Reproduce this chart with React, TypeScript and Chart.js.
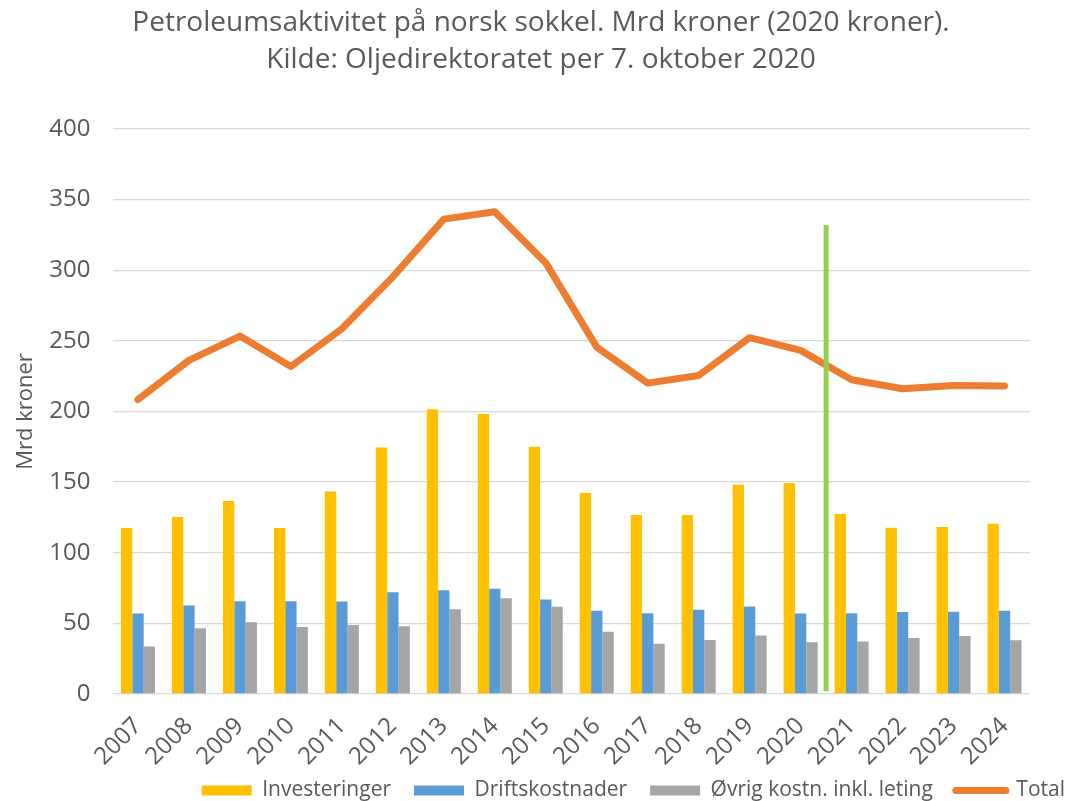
import React, { useEffect, useRef } from 'react';
import { Chart, registerables } from 'chart.js';

Chart.register(...registerables);

const years = ['2007', '2008', '2009', '2010', '2011', '2012', '2013', '2014', '2015', '2016', '2017', '2018', '2019', '2020', '2021', '2022', '2023', '2024'];
const investeringer = [117.5, 125.3, 136.7, 117.5, 143.3, 174.5, 201.6, 198.3, 175.0, 142.3, 126.7, 126.7, 148.2, 149.4, 127.4, 117.7, 118.2, 120.6];
const driftskostnader = [57.0, 62.6, 65.7, 65.7, 65.5, 72.1, 73.5, 74.5, 66.9, 58.9, 57.2, 59.6, 61.9, 57.0, 57.2, 58.0, 58.2, 58.9];
const ovrig = [33.6, 46.6, 50.8, 47.5, 48.9, 48.0, 60.0, 67.8, 61.7, 44.0, 35.5, 38.3, 41.4, 36.6, 37.1, 39.7, 41.1, 38.0];
const total = [208.5, 236.2, 253.4, 231.9, 258.6, 295.3, 336.2, 341.4, 305.2, 245.6, 220.1, 225.5, 252.3, 243.3, 222.5, 216.1, 218.4, 218.0];
// vertical marker between 2020 and 2021 (halfway between their category positions)
const markerX = [13.5, 13.5];
const markerY = [2, 332];
const yTicks = { min: 0, max: 400, step: 50 };

const FONT = "'Open Sans', 'Noto Sans', sans-serif";
const TXT = '#595959';

const toPts = (arr: number[]) => arr.map((y, i) => ({ x: i, y }));

// let the rotated year labels extend below the x-axis box without being clipped
const extendLabelClip = {
  id: 'extendLabelClip',
  afterLayout(chart: any) {
    const x = chart.scales.x;
    if (x) x.bottom = chart.height;
  },
};

export default function App() {
  const ref = useRef<HTMLCanvasElement>(null);
  useEffect(() => {
    const canvas = ref.current!;
    const barCommon = { type: 'bar', order: 3, categoryPercentage: 0.667, barPercentage: 1.0 };
    const chart = new Chart(canvas, {
      type: 'bar',
      data: {
        datasets: [
          { ...barCommon, label: 'Investeringer', data: toPts(investeringer), backgroundColor: '#FFC000' } as any,
          { ...barCommon, label: 'Driftskostnader', data: toPts(driftskostnader), backgroundColor: '#5B9BD5' } as any,
          { ...barCommon, label: 'Øvrig kostn. inkl. leting', data: toPts(ovrig), backgroundColor: '#A5A5A5' } as any,
          { type: 'line', label: 'Total', data: toPts(total), borderColor: '#ED7D31', backgroundColor: '#ED7D31', borderWidth: 7, borderCapStyle: 'round', borderJoinStyle: 'round', pointRadius: 0, order: 1 } as any,
          { type: 'line', label: 'marker', data: markerX.map((x, i) => ({ x, y: markerY[i] })), borderColor: '#92D050', borderWidth: 5, pointRadius: 0, order: 0 } as any,
        ],
      },
      plugins: [extendLabelClip],
      options: {
        responsive: false,
        animation: false,
        devicePixelRatio: 1,
        layout: { padding: { left: -6, right: -20, top: 0, bottom: -10 } },
        plugins: {
          tooltip: { enabled: false },
          title: {
            display: true,
            text: ['Petroleumsaktivitet på norsk sokkel. Mrd kroner (2020 kroner).', 'Kilde: Oljedirektoratet per 7. oktober 2020'],
            color: TXT,
            font: { family: FONT, size: 28, weight: 'normal', lineHeight: 1.32 },
            padding: { top: 4.5, bottom: 50.6 },
          },
          legend: {
            position: 'bottom',
            align: 'end',
            labels: {
              color: TXT,
              font: { family: FONT, size: 21, lineHeight: 1.2 },
              usePointStyle: true,
              pointStyleWidth: 50,
              boxHeight: 10,
              padding: 23,
              filter: (item: any) => item.datasetIndex !== 4,
              sort: (a: any, b: any) => a.datasetIndex - b.datasetIndex,
              generateLabels: (ch: any) => {
                const items = (Chart.defaults.plugins.legend.labels as any).generateLabels(ch);
                return items.map((it: any) => {
                  if (it.datasetIndex === 3) {
                    return { ...it, pointStyle: 'line', lineWidth: 7, lineCap: 'round', strokeStyle: '#ED7D31', fillStyle: '#ED7D31' };
                  }
                  return { ...it, pointStyle: 'rect', lineWidth: 0 };
                });
              },
            },
          },
        },
        scales: {
          x: {
            type: 'linear',
            min: -0.5,
            max: years.length - 0.5,
            offset: false,
            grid: { display: false, drawTicks: false },
            border: { display: false },
            afterBuildTicks: (s: any) => { s.ticks = years.map((_, i) => ({ value: i })); },
            ticks: {
              color: TXT,
              font: { family: FONT, size: 24 },
              maxRotation: 45,
              minRotation: 45,
              padding: 18,
              autoSkip: false,
              callback: (v: any) => years[Math.round(Number(v))] ?? '',
            },
            afterFit: (s: any) => { s.height = 63; },
          },
          y: {
            min: yTicks.min,
            max: yTicks.max,
            ticks: { stepSize: yTicks.step, color: TXT, font: { family: FONT, size: 24 }, padding: 22 },
            grid: { color: '#d9d9d9', lineWidth: 1.3, drawTicks: false },
            border: { display: false },
            title: { display: true, text: 'Mrd kroner', color: TXT, font: { family: FONT, size: 22 }, padding: { top: 19, bottom: 0 } },
            afterFit: (s: any) => { s.width = 118.5; },
          },
          y2: {
            position: 'right',
            min: 0,
            max: 1,
            grid: { display: false, drawTicks: false },
            border: { display: false },
            ticks: { display: false },
            afterFit: (s: any) => { s.width = 58; },
          },
        },
      } as any,
    });
    return () => chart.destroy();
  }, []);
  return (
    <div style={{ position: 'fixed', left: 0, top: 0, width: 1068, height: 801, background: '#fff' }}>
      <canvas ref={ref} width={1068} height={801} style={{ display: 'block', width: 1068, height: 801 }} />
    </div>
  );
}
